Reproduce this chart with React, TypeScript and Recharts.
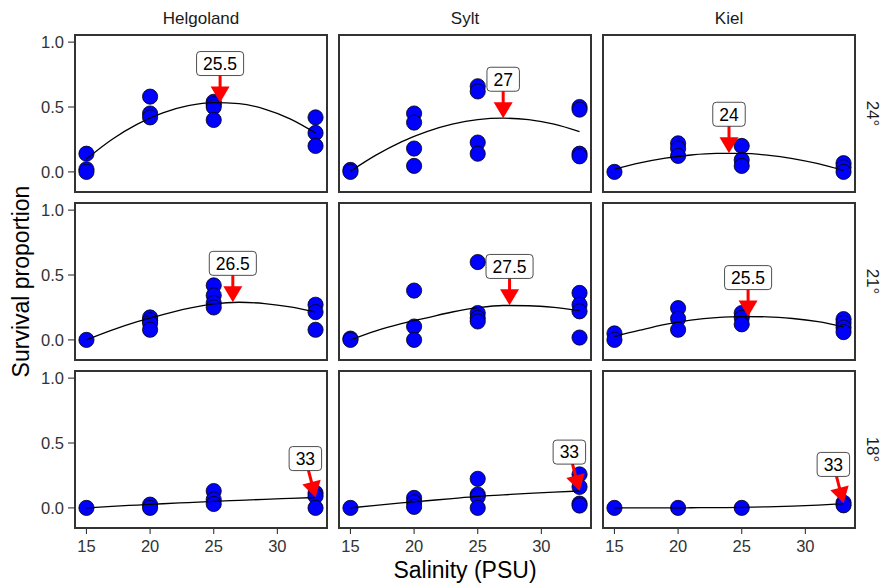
import React from 'react';
import { ComposedChart, Scatter, Line, XAxis, YAxis, ReferenceLine } from 'recharts';

const FONT = '"Liberation Sans", Arial, Helvetica, sans-serif';

// ---- data ----
const sites = ['Helgoland', 'Sylt', 'Kiel'];
const temperatures = ['24°', '21°', '18°'];
const salinity = [15, 20, 25, 33];
const xTicks = [15, 20, 25, 30];
const yTicks = [0, 0.5, 1];
const fitSalinity = [15, 17, 19, 21, 23, 25, 27, 29, 31, 33];

// observed survival, per salinity level (replicates)
const helgoland24 = [[0.14, 0.02, 0], [0.58, 0.45, 0.42], [0.54, 0.52, 0.5, 0.4], [0.42, 0.3, 0.2]];
const sylt24 = [[0.015, 0], [0.45, 0.38, 0.18, 0.046], [0.66, 0.62, 0.226, 0.14], [0.5, 0.48, 0.14, 0.12]];
const kiel24 = [[0], [0.22, 0.18, 0.123], [0.2, 0.092, 0.046], [0.067, 0.036, 0]];
const helgoland21 = [[0], [0.173, 0.15, 0.129, 0.078], [0.42, 0.343, 0.284, 0.25], [0.271, 0.214, 0.078]];
const sylt21 = [[0.01, 0], [0.38, 0.103, 0], [0.6, 0.207, 0.168, 0.142], [0.362, 0.271, 0.22, 0.018]];
const kiel21 = [[0.05, 0], [0.245, 0.163, 0.078], [0.207, 0.17, 0.12], [0.16, 0.13, 0.095, 0.06]];
const helgoland18 = [[0], [0.025, 0], [0.13, 0.065, 0.03], [0.115, 0.09, 0]];
const sylt18 = [[0], [0.077, 0.043, 0.008], [0.224, 0.103, 0.085, 0], [0.258, 0.162, 0.033, 0.018]];
const kiel18 = [[0], [0], [0], [0.04, 0.02]];

// fitted curves at fitSalinity
const fitHelgoland24 = [0.1, 0.25, 0.368, 0.455, 0.51, 0.534, 0.526, 0.484, 0.409, 0.3];
const fitSylt24 = [0.005, 0.129, 0.232, 0.311, 0.368, 0.403, 0.414, 0.402, 0.368, 0.31];
const fitKiel24 = [0.02, 0.069, 0.106, 0.13, 0.142, 0.142, 0.129, 0.103, 0.063, 0.01];
const fitHelgoland21 = [0, 0.075, 0.14, 0.195, 0.243, 0.278, 0.29, 0.28, 0.255, 0.215];
const fitSylt21 = [0, 0.07, 0.125, 0.17, 0.215, 0.248, 0.265, 0.263, 0.25, 0.225];
const fitKiel21 = [0.026, 0.075, 0.12, 0.152, 0.172, 0.18, 0.178, 0.165, 0.14, 0.1];
const fitHelgoland18 = [0, 0.012, 0.022, 0.032, 0.041, 0.05, 0.058, 0.066, 0.073, 0.08];
const fitSylt18 = [0, 0.02, 0.038, 0.055, 0.072, 0.088, 0.1, 0.112, 0.122, 0.13];
const fitKiel18 = [0, 0, 0, 0.001, 0.002, 0.004, 0.008, 0.014, 0.022, 0.033];

// optimum salinity and fitted value at optimum
const optimum = [[25.5, 27, 24], [26.5, 27.5, 25.5], [33, 33, 33]];
const optimumFit = [[0.535, 0.414, 0.144], [0.29, 0.266, 0.18], [0.08, 0.13, 0.035]];
// label anchor (x after repel)
const labelX = [[25.5, 27, 24], [26.5, 27.5, 25.5], [32.2, 32.2, 32.2]];
const labelOffset = 0.3;

const observed = [
  [helgoland24, sylt24, kiel24],
  [helgoland21, sylt21, kiel21],
  [helgoland18, sylt18, kiel18],
];
const fits = [
  [fitHelgoland24, fitSylt24, fitKiel24],
  [fitHelgoland21, fitSylt21, fitKiel21],
  [fitHelgoland18, fitSylt18, fitKiel18],
];

// ---- layout ----
const COL_LEFT = [75, 339, 603];
const ROW_TOP = [35, 203, 371];
const PANEL_W = 252;
const PANEL_H = 157;
const Y_AXIS_W = 60;
const X_AXIS_H = 32;
const PAD_TOP = 12;
const X_DOMAIN: [number, number] = [14.1, 33.9];
const Y_DOMAIN: [number, number] = [-0.155, 1.055];
const LABEL_FS = 17.5;

const dotShape = (p: any) => (
  <circle cx={p.cx} cy={p.cy} r={7.6} fill="#0000FF" stroke="#000" strokeWidth={0.8} />
);

const labelWidth = (s: string) =>
  s.split('').reduce((a, ch) => a + (ch === '.' ? 0.278 : 0.556), 0) * LABEL_FS + 13;

const makeAnnotation = (label: string) => (props: any) => {
  const { x1, y1, x2, y2 } = props;
  if ([x1, y1, x2, y2].some((v) => typeof v !== 'number' || isNaN(v))) return <g />;
  const w = labelWidth(label);
  const hh = 12;
  const hw = w / 2;
  const dx = x2 - x1;
  const dy = y2 - y1;
  const len = Math.hypot(dx, dy) || 1;
  const tY = Math.abs(dy) > 0.01 ? hh / Math.abs(dy) : Infinity;
  const tX = Math.abs(dx) > 0.01 ? hw / Math.abs(dx) : Infinity;
  const t = Math.min(tX, tY);
  const sx = x1 + dx * t;
  const sy = y1 + dy * t;
  const ux = dx / len;
  const uy = dy / len;
  const headLen = 16;
  const headW = 9.5;
  const bx = x2 - ux * headLen;
  const by = y2 - uy * headLen;
  const px = -uy;
  const py = ux;
  return (
    <g>
      <line x1={sx} y1={sy} x2={bx + ux * 1} y2={by + uy * 1} stroke="#FF0000" strokeWidth={3} />
      <polygon
        points={`${x2},${y2} ${bx + px * headW},${by + py * headW} ${bx - px * headW},${by - py * headW}`}
        fill="#FF0000"
      />
      <rect x={x1 - hw} y={y1 - hh} width={w} height={hh * 2} rx={3.5} ry={3.5} fill="#fff" stroke="#000" strokeWidth={0.7} />
      <text x={x1} y={y1} dy="0.36em" textAnchor="middle" fontSize={LABEL_FS} fontFamily={FONT} fill="#000">
        {label}
      </text>
    </g>
  );
};

function Panel({ r, c }: { r: number; c: number }) {
  const showY = c === 0;
  const showX = r === 2;
  const left = COL_LEFT[c] - (showY ? Y_AXIS_W : 0);
  const top = ROW_TOP[r] - PAD_TOP;
  const width = PANEL_W + (showY ? Y_AXIS_W : 0);
  const height = PANEL_H + PAD_TOP + (showX ? X_AXIS_H : 0);

  const pts: { x: number; y: number }[] = [];
  observed[r][c].forEach((reps, i) => reps.forEach((v) => pts.push({ x: salinity[i], y: v })));
  const fit = fitSalinity.map((x, i) => ({ x, y: fits[r][c][i] }));
  const opt = optimum[r][c];
  const peak = optimumFit[r][c];
  const lx = labelX[r][c];
  const ly = peak + labelOffset;

  return (
    <div style={{ position: 'absolute', left, top, width, height }}>
      <ComposedChart width={width} height={height} margin={{ top: PAD_TOP, right: 0, bottom: 0, left: 0 }}>
        <XAxis
          type="number"
          dataKey="x"
          domain={X_DOMAIN}
          ticks={xTicks}
          interval={0}
          hide={!showX}
          height={showX ? X_AXIS_H : 0}
          allowDataOverflow
          axisLine={false}
          tickLine={{ stroke: '#333', strokeWidth: 1.1 }}
          tickSize={6}
          tickMargin={6}
          tick={{ fontSize: 16.5, fill: '#333', fontFamily: FONT }}
        />
        <YAxis
          type="number"
          dataKey="y"
          domain={Y_DOMAIN}
          ticks={yTicks}
          interval={0}
          hide={!showY}
          width={showY ? Y_AXIS_W : 0}
          allowDataOverflow
          axisLine={false}
          tickLine={{ stroke: '#333', strokeWidth: 1.1 }}
          tickSize={7}
          tickMargin={4}
          tickFormatter={(v: number) => v.toFixed(1)}
          tick={{ fontSize: 16.5, fill: '#333', fontFamily: FONT }}
        />
        <Scatter data={pts} shape={dotShape} isAnimationActive={false} />
        <Line
          data={fit}
          dataKey="y"
          type="monotone"
          dot={false}
          activeDot={false}
          stroke="#000"
          strokeWidth={1.3}
          isAnimationActive={false}
          zIndex={700}
        />
        <ReferenceLine
          segment={[{ x: lx, y: ly }, { x: opt, y: peak }]}
          shape={makeAnnotation(String(opt))}
          ifOverflow="visible"
          zIndex={1500}
        />
      </ComposedChart>
      <div
        style={{
          position: 'absolute',
          left: (showY ? Y_AXIS_W : 0) - 1,
          top: PAD_TOP - 1,
          width: PANEL_W + 2,
          height: PANEL_H + 2,
          border: '2px solid #333',
          boxSizing: 'border-box',
          pointerEvents: 'none',
        }}
      />
    </div>
  );
}

export default function App() {
  const cells: React.ReactNode[] = [];
  for (let r = 0; r < 3; r++) for (let c = 0; c < 3; c++) cells.push(<Panel key={`${r}-${c}`} r={r} c={c} />);
  const midY = (ROW_TOP[0] + ROW_TOP[2] + PANEL_H) / 2;
  const midX = (COL_LEFT[0] + COL_LEFT[2] + PANEL_W) / 2;
  return (
    <div style={{ position: 'absolute', left: 0, top: 0, width: 884, height: 584, background: '#fff', fontFamily: FONT }}>
      <svg width={884} height={584} style={{ position: 'absolute', left: 0, top: 0 }}>
        {sites.map((s, c) => (
          <text key={s} x={COL_LEFT[c] + PANEL_W / 2} y={24} textAnchor="middle" fontSize={17} fill="#1a1a1a" fontFamily={FONT}>
            {s}
          </text>
        ))}
        {temperatures.map((t, r) => {
          const cy = ROW_TOP[r] + PANEL_H / 2;
          return (
            <text key={t} x={873} y={cy} dy="0.35em" textAnchor="middle" fontSize={17} fill="#1a1a1a" fontFamily={FONT} transform={`rotate(90, 873, ${cy})`}>
              {t}
            </text>
          );
        })}
        <text x={29} y={midY} textAnchor="middle" fontSize={23} fill="#000" fontFamily={FONT} transform={`rotate(-90, 29, ${midY})`}>
          Survival proportion
        </text>
        <text x={midX} y={578} textAnchor="middle" fontSize={23} fill="#000" fontFamily={FONT}>
          Salinity (PSU)
        </text>
      </svg>
      {cells}
    </div>
  );
}
